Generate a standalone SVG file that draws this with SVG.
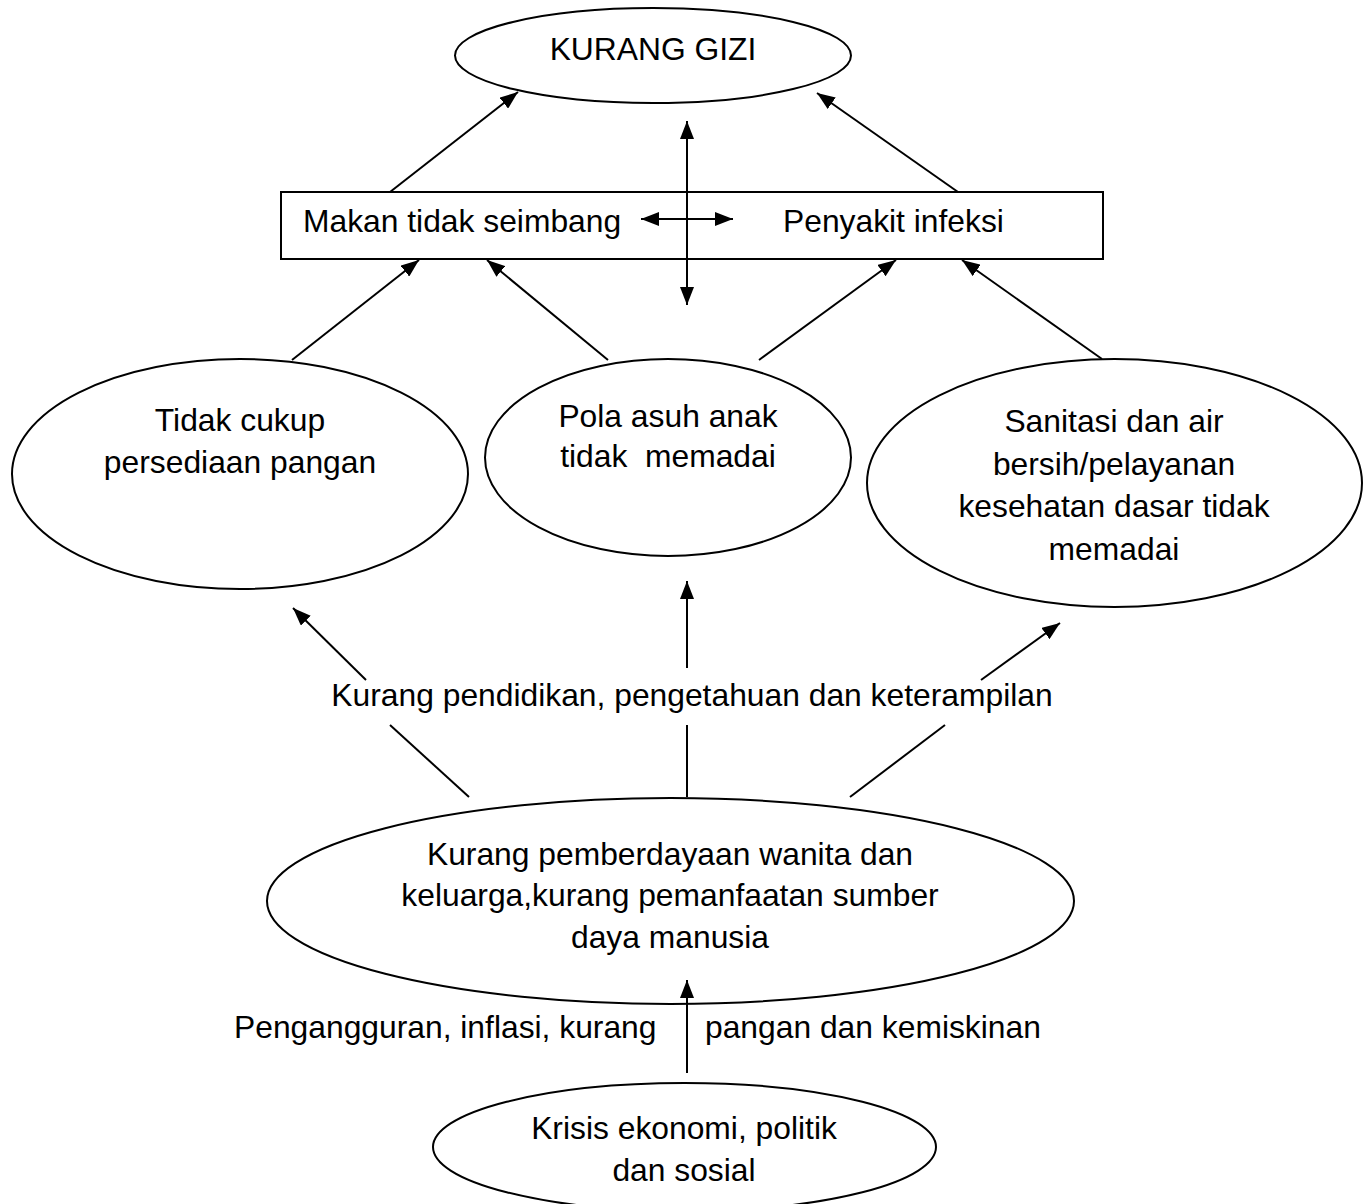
<svg xmlns="http://www.w3.org/2000/svg" width="1370" height="1204" viewBox="0 0 1370 1204">
<style>
.n{fill:#fff;stroke:#000;stroke-width:2}
.t{font-family:"Liberation Sans",Arial,sans-serif;font-size:31.8px;fill:#000}
.m{text-anchor:middle}
.c line{stroke:#000;stroke-width:2}
.a{marker-end:url(#ah)}
.b{marker-start:url(#ahs);marker-end:url(#ah)}
</style>
<defs>
<marker id="ah" viewBox="0 0 18 14" refX="18" refY="7" markerWidth="18" markerHeight="14" markerUnits="userSpaceOnUse" orient="auto"><path d="M0,0 L18,7 L0,14 Z" fill="#000"/></marker>
<marker id="ahs" viewBox="0 0 18 14" refX="0" refY="7" markerWidth="18" markerHeight="14" markerUnits="userSpaceOnUse" orient="auto"><path d="M18,0 L0,7 L18,14 Z" fill="#000"/></marker>
</defs>
<rect width="1370" height="1204" fill="#fff"/>
<g id="kurang-gizi"><ellipse class="n" cx="653" cy="55.5" rx="198" ry="47.5"/><text class="t m" x="653" y="60">KURANG GIZI</text></g>
<g id="box"><rect class="n" x="281" y="192" width="822" height="67"/><text class="t" x="303" y="232">Makan tidak seimbang</text><text class="t" x="783" y="232">Penyakit infeksi</text></g>
<g id="pangan"><ellipse class="n" cx="240" cy="474" rx="228" ry="115"/><text class="t m" x="240" y="431">Tidak cukup</text><text class="t m" x="240" y="473">persediaan pangan</text></g>
<g id="pola"><ellipse class="n" cx="668" cy="457.5" rx="183" ry="98.5"/><text class="t m" x="668" y="427">Pola asuh anak</text><text class="t m" x="668" y="467" xml:space="preserve">tidak  memadai</text></g>
<g id="sanitasi"><ellipse class="n" cx="1114.5" cy="483" rx="247.5" ry="124"/><text class="t m" x="1114" y="432">Sanitasi dan air</text><text class="t m" x="1114" y="475">bersih/pelayanan</text><text class="t m" x="1114" y="517">kesehatan dasar tidak</text><text class="t m" x="1114" y="560">memadai</text></g>
<g id="pendidikan"><text class="t m" x="692" y="706">Kurang pendidikan, pengetahuan dan keterampilan</text></g>
<g id="pemberdayaan"><ellipse class="n" cx="670.5" cy="901" rx="403.5" ry="103"/><text class="t m" x="670" y="865">Kurang pemberdayaan wanita dan</text><text class="t m" x="670" y="906">keluarga,kurang pemanfaatan sumber</text><text class="t m" x="670" y="948">daya manusia</text></g>
<g id="ekonomi-label"><text class="t" x="234" y="1038">Pengangguran, inflasi, kurang</text><text class="t" x="705" y="1038">pangan dan kemiskinan</text></g>
<g id="krisis"><ellipse class="n" cx="684.5" cy="1147" rx="251.5" ry="64"/><text class="t m" x="684" y="1139">Krisis ekonomi, politik</text><text class="t m" x="684" y="1181">dan sosial</text></g>
<g class="c" id="connectors">
<line class="a" x1="390" y1="192" x2="518" y2="92"/>
<line class="a" x1="958" y1="192" x2="817" y2="93"/>
<line class="b" x1="687" y1="121" x2="687" y2="305"/>
<line class="b" x1="641" y1="219" x2="733" y2="219"/>
<line class="a" x1="292" y1="360" x2="419" y2="260"/>
<line class="a" x1="608" y1="360" x2="487" y2="260"/>
<line class="a" x1="759" y1="360" x2="896" y2="260"/>
<line class="a" x1="1102" y1="359" x2="962" y2="260"/>
<line class="a" x1="366" y1="680" x2="293" y2="608"/>
<line class="a" x1="687" y1="668" x2="687" y2="581"/>
<line class="a" x1="981" y1="680" x2="1060" y2="623"/>
<line x1="390" y1="725" x2="469" y2="797"/>
<line x1="687" y1="725" x2="687" y2="797"/>
<line x1="945" y1="725" x2="850" y2="797"/>
<line class="a" x1="687" y1="1073" x2="687" y2="980"/>
</g>
</svg>
